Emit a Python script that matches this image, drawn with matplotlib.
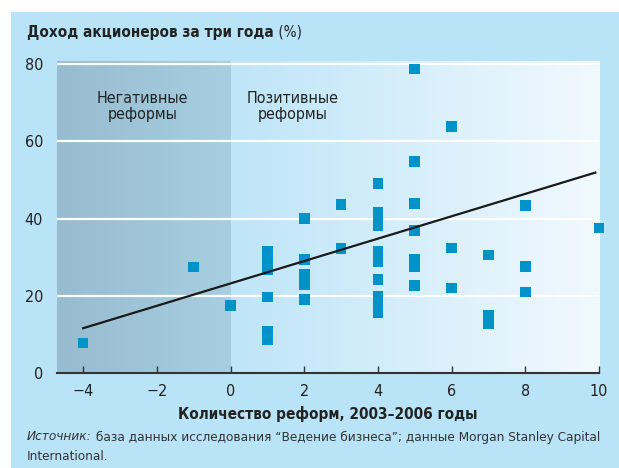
import numpy as np
import matplotlib
matplotlib.use("Agg")
import matplotlib.pyplot as plt
from matplotlib.colors import LinearSegmentedColormap
from matplotlib.patches import Rectangle

plt.rcParams['font.family'] = ['DejaVu Sans']
plt.rcParams['font.stretch'] = 'condensed'

# number of reforms vs three-year shareholder return (%)
reforms = [-4, -1, 0,
           1, 1, 1, 1, 1, 1, 1,
           2, 2, 2, 2, 2, 2,
           3, 3,
           4, 4, 4, 4, 4, 4, 4, 4, 4, 4, 4, 4,
           5, 5, 5, 5, 5, 5, 5,
           6, 6, 6,
           7, 7, 7,
           8, 8, 8,
           10]
returns = [7.8, 27.5, 17.5,
           31.5, 29.8, 28.3, 26.8, 19.7, 10.7, 8.6,
           40.0, 29.4, 25.5, 24.2, 22.9, 19.0,
           43.6, 32.2,
           49.1, 41.5, 40.0, 38.2, 31.4, 30.1, 28.8, 24.2, 19.8, 18.4, 17.0, 15.6,
           78.7, 54.7, 43.9, 36.9, 29.4, 27.6, 22.6,
           63.8, 32.4, 22.0,
           30.6, 15.0, 12.8,
           43.4, 27.6, 21.0,
           37.6]
trend_x = [-4, 9.9]
trend_y = [11.6, 51.9]

y_ticks = [0, 20, 40, 60, 80]
x_ticks = [-4, -2, 0, 2, 4, 6, 8, 10]
x_tick_labels = ['\u22124', '\u22122', '0', '2', '4', '6', '8', '10']

W, H = 619, 468
fig = plt.figure(figsize=(W / 100, H / 100), dpi=100)
fig.patch.set_facecolor('white')
# light blue panel
fig.patches.append(Rectangle((11 / W, 0), 1, 1 - 12 / H, transform=fig.transFigure,
                             facecolor='#b9e3f7', edgecolor='none', zorder=-10))

ax = fig.add_axes([57 / W, 1 - 373 / H, (599 - 57) / W, (373 - 61) / H])
ax.patch.set_alpha(0)

# background shading
neg_cmap = LinearSegmentedColormap.from_list('neg', ['#98bccf', '#a7cee1'])
pos_cmap = LinearSegmentedColormap.from_list('pos', ['#bee5f8', '#f1f9fe'])
grad = np.linspace(0, 1, 256).reshape(1, -1)
ax.imshow(grad, cmap=neg_cmap, extent=(-4.71, 0, 0, 80.8), aspect='auto', zorder=0)
ax.imshow(grad, cmap=pos_cmap, extent=(0, 10.0, 0, 80.8), aspect='auto', zorder=0)
ax.set_xlim(-4.71, 10.0)
ax.set_ylim(0, 80.8)

for yv in y_ticks[1:]:
    ax.axhline(yv, color='white', lw=1.6, zorder=1)

ax.scatter(reforms, returns, marker='s', s=58, color='#0093c9', edgecolors='none',
           zorder=3, clip_on=False)
ax.plot(trend_x, trend_y, color='#1a1a1a', lw=1.6, zorder=4)

ax.text(-2.38, 69, 'Негативные\nреформы', ha='center', va='center', fontsize=11.5,
        color='#222222', linespacing=1.1)
ax.text(1.69, 69, 'Позитивные\nреформы', ha='center', va='center', fontsize=11.5,
        color='#222222', linespacing=1.1)

for s in ['top', 'right', 'left']:
    ax.spines[s].set_visible(False)
ax.spines['bottom'].set_color('#333333')
ax.spines['bottom'].set_linewidth(1.5)

ax.set_xticks(x_ticks)
ax.set_xticklabels(x_tick_labels)
ax.set_yticks(y_ticks)
ax.tick_params(axis='x', direction='in', length=5, width=1, color='#333333',
               labelsize=11.5, pad=8, labelcolor='#222222')
ax.tick_params(axis='y', length=0, labelsize=11.5, pad=10, labelcolor='#222222')

ax.set_xlabel('Количество реформ, 2003\u20132006 годы', fontsize=11,
              fontweight='bold', color='#222222', labelpad=5)

fig.canvas.draw()
renderer = fig.canvas.get_renderer()


def text_pair(x, y, first, second, kw1, kw2):
    t1 = fig.text(x, y, first, **kw1)
    bb = t1.get_window_extent(renderer)
    fig.text(bb.x1 / W, y, second, **kw2)


text_pair(27 / W, 1 - 32 / H, 'Доход акционеров за три года', ' (%)',
          dict(fontsize=11, fontweight='bold', color='#222222', va='center'),
          dict(fontsize=11, color='#222222', va='center'))

text_pair(27 / W, 1 - 437 / H, 'Источник:',
          ' база данных исследования \u201cВедение бизнеса\u201d; данные Morgan Stanley Capital',
          dict(fontsize=9.7, style='italic', color='#333333', va='center'),
          dict(fontsize=9.7, color='#333333', va='center'))
fig.text(27 / W, 1 - 457 / H, 'International.', fontsize=9.7, color='#333333', va='center')

fig.savefig('out.png', dpi=100, facecolor=fig.get_facecolor())
